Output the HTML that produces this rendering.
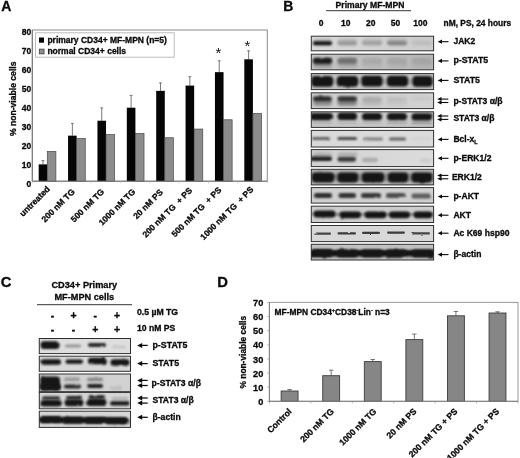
<!DOCTYPE html>
<html><head><meta charset="utf-8"><title>Figure</title>
<style>
html,body{margin:0;padding:0;background:#fff;}
svg{display:block;font-family:"Liberation Sans", Arial, sans-serif;}
</style></head>
<body>
<svg width="520" height="458" viewBox="0 0 520 458">
<rect width="520" height="458" fill="#fff"/>
<defs>
<filter id="b5" x="-30%" y="-60%" width="160%" height="220%"><feTurbulence type="fractalNoise" baseFrequency="0.11 0.16" numOctaves="2" seed="7" result="t"/><feDisplacementMap in="SourceGraphic" in2="t" scale="2.0" xChannelSelector="R" yChannelSelector="G" result="d"/><feGaussianBlur in="d" stdDeviation="0.5"/></filter>
<filter id="b7" x="-30%" y="-60%" width="160%" height="220%"><feTurbulence type="fractalNoise" baseFrequency="0.11 0.16" numOctaves="2" seed="7" result="t"/><feDisplacementMap in="SourceGraphic" in2="t" scale="2.0" xChannelSelector="R" yChannelSelector="G" result="d"/><feGaussianBlur in="d" stdDeviation="0.7"/></filter>
<filter id="b9" x="-30%" y="-60%" width="160%" height="220%"><feTurbulence type="fractalNoise" baseFrequency="0.11 0.16" numOctaves="2" seed="7" result="t"/><feDisplacementMap in="SourceGraphic" in2="t" scale="2.0" xChannelSelector="R" yChannelSelector="G" result="d"/><feGaussianBlur in="d" stdDeviation="0.9"/></filter>
<filter id="b11" x="-30%" y="-60%" width="160%" height="220%"><feTurbulence type="fractalNoise" baseFrequency="0.11 0.16" numOctaves="2" seed="7" result="t"/><feDisplacementMap in="SourceGraphic" in2="t" scale="2.0" xChannelSelector="R" yChannelSelector="G" result="d"/><feGaussianBlur in="d" stdDeviation="1.1"/></filter>
<filter id="b13" x="-30%" y="-60%" width="160%" height="220%"><feTurbulence type="fractalNoise" baseFrequency="0.11 0.16" numOctaves="2" seed="7" result="t"/><feDisplacementMap in="SourceGraphic" in2="t" scale="2.0" xChannelSelector="R" yChannelSelector="G" result="d"/><feGaussianBlur in="d" stdDeviation="1.3"/></filter>
<filter id="b14" x="-30%" y="-60%" width="160%" height="220%"><feTurbulence type="fractalNoise" baseFrequency="0.11 0.16" numOctaves="2" seed="7" result="t"/><feDisplacementMap in="SourceGraphic" in2="t" scale="2.0" xChannelSelector="R" yChannelSelector="G" result="d"/><feGaussianBlur in="d" stdDeviation="1.4"/></filter>
<filter id="b16" x="-30%" y="-60%" width="160%" height="220%"><feTurbulence type="fractalNoise" baseFrequency="0.11 0.16" numOctaves="2" seed="7" result="t"/><feDisplacementMap in="SourceGraphic" in2="t" scale="2.0" xChannelSelector="R" yChannelSelector="G" result="d"/><feGaussianBlur in="d" stdDeviation="1.6"/></filter>
<filter id="b20" x="-30%" y="-60%" width="160%" height="220%"><feTurbulence type="fractalNoise" baseFrequency="0.11 0.16" numOctaves="2" seed="7" result="t"/><feDisplacementMap in="SourceGraphic" in2="t" scale="2.0" xChannelSelector="R" yChannelSelector="G" result="d"/><feGaussianBlur in="d" stdDeviation="2.0"/></filter>
<filter id="noise" x="0" y="0" width="100%" height="100%"><feTurbulence type="fractalNoise" baseFrequency="0.35" numOctaves="2" seed="3"/><feColorMatrix type="matrix" values="0 0 0 0 0  0 0 0 0 0  0 0 0 0 0  0.6 0 0 0 -0.22"/></filter>
</defs>
<text x="1.30" y="11.10" font-size="14" font-weight="bold" text-anchor="start" fill="#0a0a0a" stroke="#0a0a0a" stroke-width="0.3" >A</text>
<text x="283.20" y="11.20" font-size="14" font-weight="bold" text-anchor="start" fill="#0a0a0a" stroke="#0a0a0a" stroke-width="0.3" >B</text>
<text x="0.70" y="287.10" font-size="14.8" font-weight="bold" text-anchor="start" fill="#0a0a0a" stroke="#0a0a0a" stroke-width="0.3" >C</text>
<text x="217.20" y="287.30" font-size="14.8" font-weight="bold" text-anchor="start" fill="#0a0a0a" stroke="#0a0a0a" stroke-width="0.3" >D</text>
<rect x="32.3" y="30.0" width="235.0" height="151.2" fill="#fff" stroke="#8a8a8a" stroke-width="1"/>
<path d="M42.99 164.38V160.60M41.59 160.60H44.39" stroke="#6a6a6a" stroke-width="0.9" fill="none"/>
<rect x="38.69" y="164.38" width="8.6" height="16.82" fill="#050505"/>
<rect x="47.29" y="151.34" width="8.6" height="29.86" fill="#8c8c8c" stroke="#4a4a4a" stroke-width="0.7"/>
<path d="M72.36 135.65V123.37M70.96 123.37H73.76" stroke="#6a6a6a" stroke-width="0.9" fill="none"/>
<rect x="68.06" y="135.65" width="8.6" height="45.55" fill="#050505"/>
<rect x="76.66" y="138.49" width="8.6" height="42.71" fill="#8c8c8c" stroke="#4a4a4a" stroke-width="0.7"/>
<path d="M101.74 120.72V107.87M100.34 107.87H103.14" stroke="#6a6a6a" stroke-width="0.9" fill="none"/>
<rect x="97.44" y="120.72" width="8.6" height="60.48" fill="#050505"/>
<rect x="106.04" y="134.52" width="8.6" height="46.68" fill="#8c8c8c" stroke="#4a4a4a" stroke-width="0.7"/>
<path d="M131.11 107.68V95.39M129.71 95.39H132.51" stroke="#6a6a6a" stroke-width="0.9" fill="none"/>
<rect x="126.81" y="107.68" width="8.6" height="73.52" fill="#050505"/>
<rect x="135.41" y="133.38" width="8.6" height="47.82" fill="#8c8c8c" stroke="#4a4a4a" stroke-width="0.7"/>
<path d="M160.49 90.86V82.92M159.09 82.92H161.89" stroke="#6a6a6a" stroke-width="0.9" fill="none"/>
<rect x="156.19" y="90.86" width="8.6" height="90.34" fill="#050505"/>
<rect x="164.79" y="137.73" width="8.6" height="43.47" fill="#8c8c8c" stroke="#4a4a4a" stroke-width="0.7"/>
<path d="M189.86 85.57V76.68M188.46 76.68H191.26" stroke="#6a6a6a" stroke-width="0.9" fill="none"/>
<rect x="185.56" y="85.57" width="8.6" height="95.63" fill="#050505"/>
<rect x="194.16" y="129.04" width="8.6" height="52.16" fill="#8c8c8c" stroke="#4a4a4a" stroke-width="0.7"/>
<path d="M219.24 72.15V60.81M217.84 60.81H220.64" stroke="#6a6a6a" stroke-width="0.9" fill="none"/>
<rect x="214.94" y="72.15" width="8.6" height="109.05" fill="#050505"/>
<rect x="223.54" y="119.77" width="8.6" height="61.42" fill="#8c8c8c" stroke="#4a4a4a" stroke-width="0.7"/>
<path d="M248.61 59.30V50.79M247.21 50.79H250.01" stroke="#6a6a6a" stroke-width="0.9" fill="none"/>
<rect x="244.31" y="59.30" width="8.6" height="121.90" fill="#050505"/>
<rect x="252.91" y="113.35" width="8.6" height="67.85" fill="#8c8c8c" stroke="#4a4a4a" stroke-width="0.7"/>
<path d="M32.3 30.0V181.2H267.3" stroke="#777" stroke-width="1" fill="none"/>
<path d="M32.30 181.2v2" stroke="#bbb" stroke-width="0.8"/>
<path d="M61.67 181.2v2" stroke="#bbb" stroke-width="0.8"/>
<path d="M91.05 181.2v2" stroke="#bbb" stroke-width="0.8"/>
<path d="M120.42 181.2v2" stroke="#bbb" stroke-width="0.8"/>
<path d="M149.80 181.2v2" stroke="#bbb" stroke-width="0.8"/>
<path d="M179.18 181.2v2" stroke="#bbb" stroke-width="0.8"/>
<path d="M208.55 181.2v2" stroke="#bbb" stroke-width="0.8"/>
<path d="M237.93 181.2v2" stroke="#bbb" stroke-width="0.8"/>
<path d="M267.30 181.2v2" stroke="#bbb" stroke-width="0.8"/>
<text x="31.20" y="186.60" font-size="8.5" font-weight="bold" text-anchor="end" fill="#0a0a0a" stroke="#0a0a0a" stroke-width="0.3" >0</text>
<text x="31.20" y="167.70" font-size="8.5" font-weight="bold" text-anchor="end" fill="#0a0a0a" stroke="#0a0a0a" stroke-width="0.3" >10</text>
<text x="31.20" y="148.80" font-size="8.5" font-weight="bold" text-anchor="end" fill="#0a0a0a" stroke="#0a0a0a" stroke-width="0.3" >20</text>
<text x="31.20" y="129.90" font-size="8.5" font-weight="bold" text-anchor="end" fill="#0a0a0a" stroke="#0a0a0a" stroke-width="0.3" >30</text>
<text x="31.20" y="111.00" font-size="8.5" font-weight="bold" text-anchor="end" fill="#0a0a0a" stroke="#0a0a0a" stroke-width="0.3" >40</text>
<text x="31.20" y="92.10" font-size="8.5" font-weight="bold" text-anchor="end" fill="#0a0a0a" stroke="#0a0a0a" stroke-width="0.3" >50</text>
<text x="31.20" y="73.20" font-size="8.5" font-weight="bold" text-anchor="end" fill="#0a0a0a" stroke="#0a0a0a" stroke-width="0.3" >60</text>
<text x="31.20" y="54.30" font-size="8.5" font-weight="bold" text-anchor="end" fill="#0a0a0a" stroke="#0a0a0a" stroke-width="0.3" >70</text>
<text x="31.20" y="35.40" font-size="8.5" font-weight="bold" text-anchor="end" fill="#0a0a0a" stroke="#0a0a0a" stroke-width="0.3" >80</text>
<text x="218.3" y="58.4" font-size="15" text-anchor="middle" fill="#111">*</text>
<text x="247.5" y="50.9" font-size="15" text-anchor="middle" fill="#111">*</text>
<text transform="translate(15.60,98.80) rotate(-90)" font-size="8.6" font-weight="bold" text-anchor="middle" fill="#0a0a0a" stroke="#0a0a0a" stroke-width="0.3">% non-viable cells</text>
<rect x="35.6" y="32.8" width="138.6" height="24.4" fill="#fff" stroke="#b4b4b4" stroke-width="0.9"/>
<rect x="39.0" y="37.5" width="5" height="5.2" fill="#050505"/>
<rect x="39.4" y="49.2" width="4.6" height="4.6" fill="#909090" stroke="#505050" stroke-width="1"/>
<text x="47.40" y="43.00" font-size="8.5" font-weight="bold" text-anchor="start" fill="#0a0a0a" stroke="#0a0a0a" stroke-width="0.3" >primary CD34+ MF-MPN (n=5)</text>
<text x="47.40" y="54.10" font-size="8.5" font-weight="bold" text-anchor="start" fill="#0a0a0a" stroke="#0a0a0a" stroke-width="0.3" >normal CD34+ cells</text>
<text transform="translate(50.49,189.60) rotate(-45)" font-size="8.5" font-weight="bold" text-anchor="end" fill="#0a0a0a" stroke="#0a0a0a" stroke-width="0.3">untreated</text>
<text transform="translate(75.36,192.30) rotate(-45)" font-size="8.5" font-weight="bold" text-anchor="end" fill="#0a0a0a" stroke="#0a0a0a" stroke-width="0.3">200 nM TG</text>
<text transform="translate(104.74,192.30) rotate(-45)" font-size="8.5" font-weight="bold" text-anchor="end" fill="#0a0a0a" stroke="#0a0a0a" stroke-width="0.3">500 nM TG</text>
<text transform="translate(135.91,192.30) rotate(-45)" font-size="8.5" font-weight="bold" text-anchor="end" fill="#0a0a0a" stroke="#0a0a0a" stroke-width="0.3">1000 nM TG</text>
<text transform="translate(163.49,192.80) rotate(-45)" font-size="8.5" font-weight="bold" text-anchor="end" fill="#0a0a0a" stroke="#0a0a0a" stroke-width="0.3">20 nM PS</text>
<text transform="translate(192.86,191.00) rotate(-45)" font-size="8.5" font-weight="bold" text-anchor="end" fill="#0a0a0a" stroke="#0a0a0a" stroke-width="0.3">200 nM TG&#160; + PS</text>
<text transform="translate(221.94,190.50) rotate(-45)" font-size="8.5" font-weight="bold" text-anchor="end" fill="#0a0a0a" stroke="#0a0a0a" stroke-width="0.3">500 nM TG&#160; + PS</text>
<text transform="translate(254.11,190.10) rotate(-45)" font-size="8.5" font-weight="bold" text-anchor="end" fill="#0a0a0a" stroke="#0a0a0a" stroke-width="0.3">1000 nM TG&#160; + PS</text>
<text x="370.00" y="8.00" font-size="8.6" font-weight="bold" text-anchor="middle" fill="#0a0a0a" stroke="#0a0a0a" stroke-width="0.3" >Primary MF-MPN</text>
<path d="M326 10.7H411" stroke="#111" stroke-width="0.85"/>
<text x="321.00" y="26.00" font-size="8.5" font-weight="bold" text-anchor="middle" fill="#0a0a0a" stroke="#0a0a0a" stroke-width="0.3" >0</text>
<text x="345.80" y="26.00" font-size="8.5" font-weight="bold" text-anchor="middle" fill="#0a0a0a" stroke="#0a0a0a" stroke-width="0.3" >10</text>
<text x="370.80" y="26.00" font-size="8.5" font-weight="bold" text-anchor="middle" fill="#0a0a0a" stroke="#0a0a0a" stroke-width="0.3" >20</text>
<text x="395.60" y="26.00" font-size="8.5" font-weight="bold" text-anchor="middle" fill="#0a0a0a" stroke="#0a0a0a" stroke-width="0.3" >50</text>
<text x="420.40" y="26.00" font-size="8.5" font-weight="bold" text-anchor="middle" fill="#0a0a0a" stroke="#0a0a0a" stroke-width="0.3" >100</text>
<text x="443.60" y="26.00" font-size="8.4" font-weight="bold" text-anchor="start" fill="#0a0a0a" stroke="#0a0a0a" stroke-width="0.3" >nM, PS, 24 hours</text>
<clipPath id="c1"><rect x="311.3" y="36.2" width="122.30" height="14.60"/></clipPath>
<g clip-path="url(#c1)">
<linearGradient id="g1" x1="0" x2="1" y1="0" y2="0"><stop offset="0" stop-color="#dadada"/><stop offset="1" stop-color="#cccccc"/></linearGradient>
<rect x="311.3" y="36.2" width="122.30" height="14.60" fill="url(#g1)"/>
<rect x="313.00" y="41.20" width="19.00" height="4.00" rx="2.00" fill="#141414" opacity="1" filter="url(#b9)"/>
<rect x="337.50" y="41.20" width="19.50" height="4.00" rx="2.00" fill="#141414" opacity="0.2" filter="url(#b9)"/>
<rect x="362.00" y="41.20" width="20.00" height="4.00" rx="2.00" fill="#141414" opacity="0.16" filter="url(#b9)"/>
<rect x="387.00" y="41.20" width="20.00" height="4.00" rx="2.00" fill="#141414" opacity="0.3" filter="url(#b9)"/>
<rect x="411.50" y="41.20" width="20.50" height="4.00" rx="2.00" fill="#141414" opacity="0.04" filter="url(#b9)"/>
<rect x="313.00" y="38.50" width="19.00" height="7.00" rx="3.50" fill="#141414" opacity="0.15" filter="url(#b14)"/>
<rect x="337.50" y="38.50" width="19.50" height="7.00" rx="3.50" fill="#141414" opacity="0.15" filter="url(#b14)"/>
<rect x="362.00" y="38.50" width="20.00" height="7.00" rx="3.50" fill="#141414" opacity="0.12" filter="url(#b14)"/>
<rect x="387.00" y="38.50" width="20.00" height="7.00" rx="3.50" fill="#141414" opacity="0.15" filter="url(#b14)"/>
<rect x="411.50" y="38.50" width="20.50" height="7.00" rx="3.50" fill="#141414" opacity="0.03" filter="url(#b14)"/>
</g>
<rect x="311.3" y="36.2" width="122.30" height="14.60" fill="none" stroke="#2e2e2e" stroke-width="1"/>
<clipPath id="c2"><rect x="311.3" y="54.2" width="122.30" height="15.60"/></clipPath>
<g clip-path="url(#c2)">
<linearGradient id="g2" x1="0" x2="1" y1="0" y2="0"><stop offset="0" stop-color="#c6c6c6"/><stop offset="1" stop-color="#b6b6b6"/></linearGradient>
<rect x="311.3" y="54.2" width="122.30" height="15.60" fill="url(#g2)"/>
<rect x="313.00" y="57.80" width="19.00" height="6.00" rx="3.00" fill="#141414" opacity="0.95" filter="url(#b11)"/>
<rect x="337.50" y="57.80" width="19.50" height="6.00" rx="3.00" fill="#141414" opacity="0.38" filter="url(#b11)"/>
<rect x="362.00" y="57.80" width="20.00" height="6.00" rx="3.00" fill="#141414" opacity="0.06" filter="url(#b11)"/>
<rect x="387.00" y="57.80" width="20.00" height="6.00" rx="3.00" fill="#141414" opacity="0.06" filter="url(#b11)"/>
<rect x="411.50" y="57.80" width="20.50" height="6.00" rx="3.00" fill="#141414" opacity="0.05" filter="url(#b11)"/>
<rect x="313.00" y="58.50" width="19.00" height="9.00" rx="3.60" fill="#141414" opacity="0.3" filter="url(#b16)"/>
<rect x="337.50" y="58.50" width="19.50" height="9.00" rx="3.60" fill="#141414" opacity="0.15" filter="url(#b16)"/>
<rect x="362.00" y="58.50" width="20.00" height="9.00" rx="3.60" fill="#141414" opacity="0.06" filter="url(#b16)"/>
<rect x="387.00" y="58.50" width="20.00" height="9.00" rx="3.60" fill="#141414" opacity="0.06" filter="url(#b16)"/>
<rect x="411.50" y="58.50" width="20.50" height="9.00" rx="3.60" fill="#141414" opacity="0.06" filter="url(#b16)"/>
</g>
<rect x="311.3" y="54.2" width="122.30" height="15.60" fill="none" stroke="#2e2e2e" stroke-width="1"/>
<clipPath id="c3"><rect x="311.3" y="73.6" width="122.30" height="16.00"/></clipPath>
<g clip-path="url(#c3)">
<rect x="311.3" y="73.6" width="122.30" height="16.00" fill="#c0c0c0"/>
<rect x="311.50" y="76.10" width="21.50" height="10.60" rx="3.60" fill="#141414" opacity="1" filter="url(#b9)"/>
<rect x="337.00" y="76.10" width="21.00" height="10.60" rx="3.60" fill="#141414" opacity="1" filter="url(#b9)"/>
<rect x="361.50" y="75.80" width="21.00" height="10.60" rx="3.60" fill="#141414" opacity="1" filter="url(#b9)"/>
<rect x="387.00" y="75.80" width="21.00" height="10.60" rx="3.60" fill="#141414" opacity="1" filter="url(#b9)"/>
<rect x="412.50" y="76.10" width="20.00" height="10.60" rx="3.60" fill="#141414" opacity="1" filter="url(#b9)"/>
<rect x="310.00" y="79.00" width="125.00" height="5.00" rx="2.50" fill="#141414" opacity="0.18" filter="url(#b13)"/>
</g>
<rect x="311.3" y="73.6" width="122.30" height="16.00" fill="none" stroke="#2e2e2e" stroke-width="1"/>
<clipPath id="c4"><rect x="311.3" y="92.8" width="122.30" height="15.80"/></clipPath>
<g clip-path="url(#c4)">
<linearGradient id="g4" x1="0" x2="1" y1="0" y2="0"><stop offset="0" stop-color="#cccccc"/><stop offset="1" stop-color="#d2d2d2"/></linearGradient>
<rect x="311.3" y="92.8" width="122.30" height="15.80" fill="url(#g4)"/>
<rect x="313.00" y="96.30" width="19.00" height="4.60" rx="2.30" fill="#141414" opacity="0.85" filter="url(#b11)"/>
<rect x="337.50" y="96.30" width="19.50" height="4.60" rx="2.30" fill="#141414" opacity="0.8" filter="url(#b11)"/>
<rect x="362.00" y="96.30" width="20.00" height="4.60" rx="2.30" fill="#141414" opacity="0.1" filter="url(#b11)"/>
<rect x="387.00" y="96.30" width="20.00" height="4.60" rx="2.30" fill="#141414" opacity="0.05" filter="url(#b11)"/>
<rect x="411.50" y="96.30" width="20.50" height="4.60" rx="2.30" fill="#141414" opacity="0.03" filter="url(#b11)"/>
<rect x="313.00" y="98.50" width="19.00" height="7.00" rx="3.50" fill="#141414" opacity="0.4" filter="url(#b14)"/>
<rect x="337.50" y="98.50" width="19.50" height="7.00" rx="3.50" fill="#141414" opacity="0.45" filter="url(#b14)"/>
<rect x="362.00" y="98.50" width="20.00" height="7.00" rx="3.50" fill="#141414" opacity="0.12" filter="url(#b14)"/>
<rect x="387.00" y="98.50" width="20.00" height="7.00" rx="3.50" fill="#141414" opacity="0.06" filter="url(#b14)"/>
</g>
<rect x="311.3" y="92.8" width="122.30" height="15.80" fill="none" stroke="#2e2e2e" stroke-width="1"/>
<clipPath id="c5"><rect x="311.3" y="111.8" width="122.30" height="15.60"/></clipPath>
<g clip-path="url(#c5)">
<rect x="311.3" y="111.8" width="122.30" height="15.60" fill="#c8c8c8"/>
<rect x="310.00" y="112.90" width="23.00" height="7.40" rx="3.60" fill="#141414" opacity="1" filter="url(#b9)"/>
<rect x="337.50" y="112.60" width="19.50" height="7.40" rx="3.60" fill="#141414" opacity="1" filter="url(#b9)"/>
<rect x="362.00" y="112.90" width="20.00" height="7.40" rx="3.60" fill="#141414" opacity="1" filter="url(#b9)"/>
<rect x="387.00" y="112.90" width="20.00" height="7.40" rx="3.60" fill="#141414" opacity="1" filter="url(#b9)"/>
<rect x="411.50" y="113.20" width="20.50" height="7.40" rx="3.60" fill="#141414" opacity="1" filter="url(#b9)"/>
<rect x="313.00" y="122.00" width="19.00" height="2.00" rx="1.00" fill="#141414" opacity="0.15" filter="url(#b9)"/>
<rect x="337.50" y="122.00" width="19.50" height="2.00" rx="1.00" fill="#141414" opacity="0.12" filter="url(#b9)"/>
<rect x="362.00" y="122.00" width="20.00" height="2.00" rx="1.00" fill="#141414" opacity="0.12" filter="url(#b9)"/>
<rect x="387.00" y="122.00" width="20.00" height="2.00" rx="1.00" fill="#141414" opacity="0.2" filter="url(#b9)"/>
<rect x="411.50" y="122.00" width="20.50" height="2.00" rx="1.00" fill="#141414" opacity="0.3" filter="url(#b9)"/>
</g>
<rect x="311.3" y="111.8" width="122.30" height="15.60" fill="none" stroke="#2e2e2e" stroke-width="1"/>
<clipPath id="c6"><rect x="311.3" y="130.4" width="122.30" height="16.60"/></clipPath>
<g clip-path="url(#c6)">
<rect x="311.3" y="130.4" width="122.30" height="16.60" fill="#dadada"/>
<rect x="312.00" y="137.00" width="18.00" height="3.00" rx="1.50" fill="#141414" opacity="0.6" filter="url(#b9)"/>
<rect x="337.50" y="137.10" width="19.50" height="3.00" rx="1.50" fill="#141414" opacity="0.75" filter="url(#b9)"/>
<rect x="363.00" y="137.60" width="20.00" height="3.00" rx="1.50" fill="#141414" opacity="0.45" filter="url(#b9)"/>
<rect x="389.00" y="137.50" width="17.00" height="3.00" rx="1.50" fill="#141414" opacity="0.6" filter="url(#b9)"/>
<rect x="411.50" y="137.30" width="20.50" height="3.00" rx="1.50" fill="#141414" opacity="0.03" filter="url(#b9)"/>
</g>
<rect x="311.3" y="130.4" width="122.30" height="16.60" fill="none" stroke="#2e2e2e" stroke-width="1"/>
<clipPath id="c7"><rect x="311.3" y="149.6" width="122.30" height="17.00"/></clipPath>
<g clip-path="url(#c7)">
<linearGradient id="g7" x1="0" x2="1" y1="0" y2="0"><stop offset="0" stop-color="#d2d2d2"/><stop offset="1" stop-color="#dcdcdc"/></linearGradient>
<rect x="311.3" y="149.6" width="122.30" height="17.00" fill="url(#g7)"/>
<rect x="310.00" y="156.50" width="22.00" height="4.60" rx="2.30" fill="#141414" opacity="0.95" filter="url(#b9)"/>
<rect x="337.50" y="157.10" width="18.50" height="4.60" rx="2.30" fill="#141414" opacity="0.8" filter="url(#b9)"/>
<rect x="362.00" y="157.70" width="16.00" height="4.60" rx="2.30" fill="#141414" opacity="0.22" filter="url(#b9)"/>
<rect x="419.50" y="158.20" width="12.50" height="4.60" rx="2.30" fill="#141414" opacity="0.06" filter="url(#b9)"/>
<rect x="313.00" y="152.50" width="19.00" height="5.00" rx="2.50" fill="#141414" opacity="0.2" filter="url(#b14)"/>
<rect x="337.50" y="152.50" width="19.50" height="5.00" rx="2.50" fill="#141414" opacity="0.2" filter="url(#b14)"/>
</g>
<rect x="311.3" y="149.6" width="122.30" height="17.00" fill="none" stroke="#2e2e2e" stroke-width="1"/>
<clipPath id="c8"><rect x="311.3" y="169.3" width="122.30" height="15.60"/></clipPath>
<g clip-path="url(#c8)">
<rect x="311.3" y="169.3" width="122.30" height="15.60" fill="#b2b2b2"/>
<rect x="312.00" y="172.40" width="22.00" height="10.00" rx="3.60" fill="#141414" opacity="1" filter="url(#b9)"/>
<rect x="337.50" y="172.40" width="20.50" height="10.00" rx="3.60" fill="#141414" opacity="1" filter="url(#b9)"/>
<rect x="362.00" y="172.40" width="22.00" height="10.00" rx="3.60" fill="#141414" opacity="1" filter="url(#b9)"/>
<rect x="388.00" y="172.40" width="20.00" height="10.00" rx="3.60" fill="#141414" opacity="1" filter="url(#b9)"/>
<rect x="411.50" y="172.40" width="20.50" height="10.00" rx="3.60" fill="#141414" opacity="1" filter="url(#b9)"/>
<rect x="310.00" y="173.80" width="125.00" height="7.00" rx="3.50" fill="#141414" opacity="0.3" filter="url(#b13)"/>
</g>
<rect x="311.3" y="169.3" width="122.30" height="15.60" fill="none" stroke="#2e2e2e" stroke-width="1"/>
<clipPath id="c9"><rect x="311.3" y="187.6" width="122.30" height="15.50"/></clipPath>
<g clip-path="url(#c9)">
<rect x="311.3" y="187.6" width="122.30" height="15.50" fill="#d0d0d0"/>
<rect x="314.00" y="193.10" width="18.00" height="5.00" rx="2.50" fill="#141414" opacity="0.88" filter="url(#b9)"/>
<rect x="338.50" y="193.10" width="17.50" height="5.00" rx="2.50" fill="#141414" opacity="0.84" filter="url(#b9)"/>
<rect x="361.00" y="193.10" width="20.00" height="5.00" rx="2.50" fill="#141414" opacity="0.82" filter="url(#b9)"/>
<rect x="386.00" y="193.10" width="20.00" height="5.00" rx="2.50" fill="#141414" opacity="0.7" filter="url(#b9)"/>
<rect x="411.50" y="193.40" width="19.50" height="5.00" rx="2.50" fill="#141414" opacity="0.62" filter="url(#b9)"/>
</g>
<rect x="311.3" y="187.6" width="122.30" height="15.50" fill="none" stroke="#2e2e2e" stroke-width="1"/>
<clipPath id="c10"><rect x="311.3" y="206.2" width="122.30" height="16.30"/></clipPath>
<g clip-path="url(#c10)">
<rect x="311.3" y="206.2" width="122.30" height="16.30" fill="#cecece"/>
<rect x="313.50" y="210.60" width="22.00" height="6.80" rx="3.40" fill="#141414" opacity="1" filter="url(#b9)"/>
<rect x="339.50" y="211.40" width="21.50" height="6.80" rx="3.40" fill="#141414" opacity="1" filter="url(#b9)"/>
<rect x="364.50" y="211.40" width="22.00" height="6.80" rx="3.40" fill="#141414" opacity="1" filter="url(#b9)"/>
<rect x="389.00" y="211.40" width="21.00" height="6.80" rx="3.40" fill="#141414" opacity="1" filter="url(#b9)"/>
<rect x="413.50" y="211.40" width="19.00" height="6.80" rx="3.40" fill="#141414" opacity="1" filter="url(#b9)"/>
<rect x="310.00" y="213.10" width="125.00" height="3.00" rx="1.50" fill="#141414" opacity="0.35" filter="url(#b11)"/>
</g>
<rect x="311.3" y="206.2" width="122.30" height="16.30" fill="none" stroke="#2e2e2e" stroke-width="1"/>
<clipPath id="c11"><rect x="311.3" y="225.5" width="122.30" height="16.10"/></clipPath>
<g clip-path="url(#c11)">
<rect x="311.3" y="225.5" width="122.30" height="16.10" fill="#d8d8d8"/>
<rect x="314.00" y="232.60" width="17.00" height="2.20" rx="1.10" fill="#141414" opacity="0.75" filter="url(#b7)"/>
<rect x="337.50" y="232.30" width="18.50" height="2.20" rx="1.10" fill="#141414" opacity="0.8" filter="url(#b7)"/>
<rect x="362.00" y="231.70" width="18.00" height="2.20" rx="1.10" fill="#141414" opacity="0.8" filter="url(#b7)"/>
<rect x="387.00" y="231.50" width="18.00" height="2.20" rx="1.10" fill="#141414" opacity="0.8" filter="url(#b7)"/>
<rect x="411.50" y="232.30" width="18.50" height="2.20" rx="1.10" fill="#141414" opacity="0.75" filter="url(#b7)"/>
</g>
<rect x="311.3" y="225.5" width="122.30" height="16.10" fill="none" stroke="#2e2e2e" stroke-width="1"/>
<clipPath id="c12"><rect x="311.3" y="244.3" width="122.30" height="15.70"/></clipPath>
<g clip-path="url(#c12)">
<rect x="311.3" y="244.3" width="122.30" height="15.70" fill="#c2c2c2"/>
<rect x="308.00" y="250.00" width="129.00" height="6.40" rx="3.20" fill="#141414" opacity="1" filter="url(#b9)"/>
<rect x="309.00" y="249.10" width="24.00" height="7.80" rx="3.60" fill="#141414" opacity="1" filter="url(#b11)"/>
<rect x="336.50" y="249.40" width="21.50" height="7.80" rx="3.60" fill="#141414" opacity="1" filter="url(#b11)"/>
<rect x="361.00" y="249.40" width="22.00" height="7.80" rx="3.60" fill="#141414" opacity="1" filter="url(#b11)"/>
<rect x="386.00" y="249.60" width="21.00" height="7.80" rx="3.60" fill="#141414" opacity="1" filter="url(#b11)"/>
<rect x="411.50" y="249.40" width="22.50" height="7.80" rx="3.60" fill="#141414" opacity="1" filter="url(#b11)"/>
</g>
<rect x="311.3" y="244.3" width="122.30" height="15.70" fill="none" stroke="#2e2e2e" stroke-width="1"/>
<path d="M440.00 41.70H448.50" stroke="#0a0a0a" stroke-width="1.1" fill="none"/>
<path d="M437.70 41.70l4.3 -2.1v4.2z" fill="#0a0a0a"/>
<text x="453.40" y="44.20" font-size="8.55" font-weight="bold" text-anchor="start" fill="#0a0a0a" stroke="#0a0a0a" stroke-width="0.3" >JAK2</text>
<path d="M440.00 60.90H448.50" stroke="#0a0a0a" stroke-width="1.1" fill="none"/>
<path d="M437.70 60.90l4.3 -2.1v4.2z" fill="#0a0a0a"/>
<text x="453.40" y="63.40" font-size="8.8" font-weight="bold" text-anchor="start" fill="#0a0a0a" stroke="#0a0a0a" stroke-width="0.3" >p-STAT5</text>
<path d="M440.00 80.40H448.50" stroke="#0a0a0a" stroke-width="1.1" fill="none"/>
<path d="M437.70 80.40l4.3 -2.1v4.2z" fill="#0a0a0a"/>
<text x="453.40" y="82.90" font-size="8.8" font-weight="bold" text-anchor="start" fill="#0a0a0a" stroke="#0a0a0a" stroke-width="0.3" >STAT5</text>
<path d="M439.50 99.10H448.30" stroke="#0a0a0a" stroke-width="1.1" fill="none"/>
<path d="M437.20 99.10l4.3 -2.0v4.0z" fill="#0a0a0a"/>
<path d="M439.50 102.50H448.30" stroke="#0a0a0a" stroke-width="1.1" fill="none"/>
<path d="M437.20 102.50l4.3 -2.0v4.0z" fill="#0a0a0a"/>
<text x="453.40" y="103.80" font-size="8.55" font-weight="bold" text-anchor="start" fill="#0a0a0a" stroke="#0a0a0a" stroke-width="0.3" >p-STAT3 α/β</text>
<path d="M439.50 116.00H448.30" stroke="#0a0a0a" stroke-width="1.1" fill="none"/>
<path d="M437.20 116.00l4.3 -2.0v4.0z" fill="#0a0a0a"/>
<path d="M439.50 119.40H448.30" stroke="#0a0a0a" stroke-width="1.1" fill="none"/>
<path d="M437.20 119.40l4.3 -2.0v4.0z" fill="#0a0a0a"/>
<text x="453.40" y="120.70" font-size="8.55" font-weight="bold" text-anchor="start" fill="#0a0a0a" stroke="#0a0a0a" stroke-width="0.3" >STAT3 α/β</text>
<path d="M440.00 139.40H448.50" stroke="#0a0a0a" stroke-width="1.1" fill="none"/>
<path d="M437.70 139.40l4.3 -2.1v4.2z" fill="#0a0a0a"/>
<text x="453.40" y="141.90" font-size="8.55" font-weight="bold" text-anchor="start" fill="#0a0a0a" stroke="#0a0a0a" stroke-width="0.3" >Bcl-x<tspan font-size="5.5" dy="2">L</tspan></text>
<path d="M440.00 158.30H448.50" stroke="#0a0a0a" stroke-width="1.1" fill="none"/>
<path d="M437.70 158.30l4.3 -2.1v4.2z" fill="#0a0a0a"/>
<text x="453.40" y="160.80" font-size="8.55" font-weight="bold" text-anchor="start" fill="#0a0a0a" stroke="#0a0a0a" stroke-width="0.3" >p-ERK1/2</text>
<path d="M439.50 175.40H448.30" stroke="#0a0a0a" stroke-width="1.1" fill="none"/>
<path d="M437.20 175.40l4.3 -2.0v4.0z" fill="#0a0a0a"/>
<path d="M439.50 178.80H448.30" stroke="#0a0a0a" stroke-width="1.1" fill="none"/>
<path d="M437.20 178.80l4.3 -2.0v4.0z" fill="#0a0a0a"/>
<text x="451.90" y="180.10" font-size="8.55" font-weight="bold" text-anchor="start" fill="#0a0a0a" stroke="#0a0a0a" stroke-width="0.3" >ERK1/2</text>
<path d="M440.00 196.50H448.50" stroke="#0a0a0a" stroke-width="1.1" fill="none"/>
<path d="M437.70 196.50l4.3 -2.1v4.2z" fill="#0a0a0a"/>
<text x="453.40" y="199.00" font-size="8.55" font-weight="bold" text-anchor="start" fill="#0a0a0a" stroke="#0a0a0a" stroke-width="0.3" >p-AKT</text>
<path d="M440.00 215.20H448.50" stroke="#0a0a0a" stroke-width="1.1" fill="none"/>
<path d="M437.70 215.20l4.3 -2.1v4.2z" fill="#0a0a0a"/>
<text x="453.40" y="217.70" font-size="8.55" font-weight="bold" text-anchor="start" fill="#0a0a0a" stroke="#0a0a0a" stroke-width="0.3" >AKT</text>
<path d="M440.00 233.20H448.50" stroke="#0a0a0a" stroke-width="1.1" fill="none"/>
<path d="M437.70 233.20l4.3 -2.1v4.2z" fill="#0a0a0a"/>
<text x="453.40" y="235.70" font-size="8.55" font-weight="bold" text-anchor="start" fill="#0a0a0a" stroke="#0a0a0a" stroke-width="0.3" >Ac K69 hsp90</text>
<path d="M440.00 254.60H448.50" stroke="#0a0a0a" stroke-width="1.1" fill="none"/>
<path d="M437.70 254.60l4.3 -2.1v4.2z" fill="#0a0a0a"/>
<text x="453.40" y="257.10" font-size="8.55" font-weight="bold" text-anchor="start" fill="#0a0a0a" stroke="#0a0a0a" stroke-width="0.3" >β-actin</text>
<text x="84.30" y="288.40" font-size="9.2" font-weight="bold" text-anchor="middle" fill="#0a0a0a" stroke="#0a0a0a" stroke-width="0.3" >CD34+ Primary</text>
<text x="84.30" y="300.30" font-size="9.2" font-weight="bold" text-anchor="middle" fill="#0a0a0a" stroke="#0a0a0a" stroke-width="0.3" >MF-MPN cells</text>
<path d="M37 304.7H132" stroke="#111" stroke-width="0.85"/>
<text x="52.50" y="318.70" font-size="10.5" font-weight="bold" text-anchor="middle" fill="#0a0a0a" stroke="#0a0a0a" stroke-width="0.3" >-</text>
<text x="73.50" y="319.00" font-size="10.5" font-weight="bold" text-anchor="middle" fill="#0a0a0a" stroke="#0a0a0a" stroke-width="0.3" >+</text>
<text x="95.20" y="318.70" font-size="10.5" font-weight="bold" text-anchor="middle" fill="#0a0a0a" stroke="#0a0a0a" stroke-width="0.3" >-</text>
<text x="117.00" y="319.00" font-size="10.5" font-weight="bold" text-anchor="middle" fill="#0a0a0a" stroke="#0a0a0a" stroke-width="0.3" >+</text>
<text x="52.50" y="332.90" font-size="10.5" font-weight="bold" text-anchor="middle" fill="#0a0a0a" stroke="#0a0a0a" stroke-width="0.3" >-</text>
<text x="73.50" y="332.90" font-size="10.5" font-weight="bold" text-anchor="middle" fill="#0a0a0a" stroke="#0a0a0a" stroke-width="0.3" >-</text>
<text x="95.20" y="333.20" font-size="10.5" font-weight="bold" text-anchor="middle" fill="#0a0a0a" stroke="#0a0a0a" stroke-width="0.3" >+</text>
<text x="117.00" y="333.20" font-size="10.5" font-weight="bold" text-anchor="middle" fill="#0a0a0a" stroke="#0a0a0a" stroke-width="0.3" >+</text>
<text x="136.90" y="314.90" font-size="8.7" font-weight="bold" text-anchor="start" fill="#0a0a0a" stroke="#0a0a0a" stroke-width="0.3" >0.5 µM TG</text>
<text x="136.90" y="331.40" font-size="8.65" font-weight="bold" text-anchor="start" fill="#0a0a0a" stroke="#0a0a0a" stroke-width="0.3" >10 nM PS</text>
<clipPath id="c13"><rect x="39.3" y="338.5" width="91.20" height="15.10"/></clipPath>
<g clip-path="url(#c13)">
<rect x="39.3" y="338.5" width="91.20" height="15.10" fill="#dedede"/>
<rect x="40.40" y="341.30" width="19.20" height="7.60" rx="3.60" fill="#141414" opacity="1" filter="url(#b11)"/>
<rect x="65.00" y="344.40" width="16.00" height="3.20" rx="1.60" fill="#141414" opacity="0.35" filter="url(#b11)"/>
<rect x="88.00" y="343.00" width="18.00" height="4.00" rx="2.00" fill="#141414" opacity="0.9" filter="url(#b9)"/>
<rect x="112.00" y="345.50" width="14.00" height="3.00" rx="1.50" fill="#141414" opacity="0.1" filter="url(#b11)"/>
</g>
<rect x="39.3" y="338.5" width="91.20" height="15.10" fill="none" stroke="#2e2e2e" stroke-width="1"/>
<clipPath id="c14"><rect x="39.3" y="356.2" width="91.20" height="15.10"/></clipPath>
<g clip-path="url(#c14)">
<rect x="39.3" y="356.2" width="91.20" height="15.10" fill="#d8d8d8"/>
<rect x="41.00" y="359.25" width="20.00" height="5.50" rx="2.75" fill="#141414" opacity="1" filter="url(#b9)"/>
<rect x="65.50" y="359.40" width="17.50" height="4.40" rx="2.20" fill="#141414" opacity="1" filter="url(#b9)"/>
<rect x="88.00" y="357.75" width="19.00" height="6.50" rx="3.25" fill="#141414" opacity="1" filter="url(#b9)"/>
<rect x="110.50" y="359.35" width="19.00" height="6.50" rx="3.25" fill="#141414" opacity="1" filter="url(#b9)"/>
</g>
<rect x="39.3" y="356.2" width="91.20" height="15.10" fill="none" stroke="#2e2e2e" stroke-width="1"/>
<clipPath id="c15"><rect x="39.3" y="374.0" width="91.20" height="17.70"/></clipPath>
<g clip-path="url(#c15)">
<rect x="39.3" y="374.0" width="91.20" height="17.70" fill="#d2d2d2"/>
<rect x="40.20" y="376.50" width="19.80" height="14.00" rx="3.60" fill="#141414" opacity="1" filter="url(#b11)"/>
<rect x="40.00" y="384.00" width="21.00" height="6.00" rx="3.00" fill="#141414" opacity="1" filter="url(#b11)"/>
<rect x="64.00" y="384.40" width="17.00" height="4.00" rx="2.00" fill="#141414" opacity="0.92" filter="url(#b9)"/>
<rect x="64.00" y="377.55" width="16.00" height="3.50" rx="1.75" fill="#141414" opacity="0.3" filter="url(#b11)"/>
<rect x="87.00" y="384.00" width="16.00" height="4.00" rx="2.00" fill="#141414" opacity="0.95" filter="url(#b9)"/>
<rect x="87.00" y="377.75" width="16.00" height="3.50" rx="1.75" fill="#141414" opacity="0.4" filter="url(#b11)"/>
<rect x="110.00" y="386.00" width="12.00" height="4.00" rx="2.00" fill="#141414" opacity="0.1" filter="url(#b13)"/>
</g>
<rect x="39.3" y="374.0" width="91.20" height="17.70" fill="none" stroke="#2e2e2e" stroke-width="1"/>
<clipPath id="c16"><rect x="39.3" y="392.4" width="91.20" height="16.40"/></clipPath>
<g clip-path="url(#c16)">
<rect x="39.3" y="392.4" width="91.20" height="16.40" fill="#d4d4d4"/>
<rect x="40.30" y="399.90" width="21.50" height="6.60" rx="3.30" fill="#141414" opacity="1" filter="url(#b9)"/>
<rect x="42.00" y="396.50" width="18.00" height="3.00" rx="1.50" fill="#141414" opacity="0.95" filter="url(#b9)"/>
<rect x="64.50" y="399.30" width="19.00" height="7.00" rx="3.50" fill="#141414" opacity="1" filter="url(#b9)"/>
<rect x="66.00" y="396.00" width="16.00" height="3.20" rx="1.60" fill="#141414" opacity="0.95" filter="url(#b9)"/>
<rect x="87.00" y="398.80" width="19.50" height="7.20" rx="3.60" fill="#141414" opacity="1" filter="url(#b9)"/>
<rect x="88.50" y="395.30" width="16.50" height="3.40" rx="1.70" fill="#141414" opacity="0.95" filter="url(#b9)"/>
<rect x="110.00" y="401.30" width="19.50" height="4.20" rx="2.10" fill="#141414" opacity="1" filter="url(#b9)"/>
<rect x="112.00" y="397.75" width="16.00" height="1.50" rx="0.75" fill="#141414" opacity="0.3" filter="url(#b9)"/>
</g>
<rect x="39.3" y="392.4" width="91.20" height="16.40" fill="none" stroke="#2e2e2e" stroke-width="1"/>
<clipPath id="c17"><rect x="39.3" y="411.2" width="91.20" height="16.20"/></clipPath>
<g clip-path="url(#c17)">
<rect x="39.3" y="411.2" width="91.20" height="16.20" fill="#d6d6d6"/>
<rect x="39.00" y="417.50" width="89.00" height="5.00" rx="2.50" fill="#141414" opacity="1" filter="url(#b9)"/>
<rect x="40.00" y="416.10" width="22.00" height="7.00" rx="3.50" fill="#141414" opacity="1" filter="url(#b11)"/>
<rect x="62.00" y="416.70" width="22.00" height="7.00" rx="3.50" fill="#141414" opacity="1" filter="url(#b11)"/>
<rect x="84.00" y="416.90" width="23.00" height="7.00" rx="3.50" fill="#141414" opacity="1" filter="url(#b11)"/>
<rect x="105.00" y="417.80" width="22.00" height="6.40" rx="3.20" fill="#141414" opacity="1" filter="url(#b11)"/>
<rect x="120.00" y="419.00" width="11.00" height="5.00" rx="2.50" fill="#141414" opacity="0.4" filter="url(#b13)"/>
</g>
<rect x="39.3" y="411.2" width="91.20" height="16.20" fill="none" stroke="#2e2e2e" stroke-width="1"/>
<path d="M139.50 345.40H147.70" stroke="#0a0a0a" stroke-width="1.25" fill="none"/>
<path d="M137.20 345.40l5.0 -2.5v5.0z" fill="#0a0a0a"/>
<text x="152.50" y="347.90" font-size="8.8" font-weight="bold" text-anchor="start" fill="#0a0a0a" stroke="#0a0a0a" stroke-width="0.3" >p-STAT5</text>
<path d="M139.50 363.60H147.70" stroke="#0a0a0a" stroke-width="1.25" fill="none"/>
<path d="M137.20 363.60l5.0 -2.5v5.0z" fill="#0a0a0a"/>
<text x="152.50" y="366.10" font-size="8.8" font-weight="bold" text-anchor="start" fill="#0a0a0a" stroke="#0a0a0a" stroke-width="0.3" >STAT5</text>
<path d="M139.50 380.40H147.70" stroke="#0a0a0a" stroke-width="1.25" fill="none"/>
<path d="M137.20 380.40l5.0 -2.5v5.0z" fill="#0a0a0a"/>
<path d="M139.50 385.50H147.70" stroke="#0a0a0a" stroke-width="1.25" fill="none"/>
<path d="M137.20 385.50l5.0 -2.5v5.0z" fill="#0a0a0a"/>
<text x="151.60" y="385.70" font-size="8.6" font-weight="bold" text-anchor="start" fill="#0a0a0a" stroke="#0a0a0a" stroke-width="0.3" >p-STAT3 α/β</text>
<path d="M139.50 398.00H147.70" stroke="#0a0a0a" stroke-width="1.25" fill="none"/>
<path d="M137.20 398.00l5.0 -2.5v5.0z" fill="#0a0a0a"/>
<path d="M139.50 403.10H147.70" stroke="#0a0a0a" stroke-width="1.25" fill="none"/>
<path d="M137.20 403.10l5.0 -2.5v5.0z" fill="#0a0a0a"/>
<text x="152.50" y="403.30" font-size="8.6" font-weight="bold" text-anchor="start" fill="#0a0a0a" stroke="#0a0a0a" stroke-width="0.3" >STAT3 α/β</text>
<path d="M139.50 417.30H147.70" stroke="#0a0a0a" stroke-width="1.25" fill="none"/>
<path d="M137.20 417.30l5.0 -2.5v5.0z" fill="#0a0a0a"/>
<text x="152.50" y="419.80" font-size="8.6" font-weight="bold" text-anchor="start" fill="#0a0a0a" stroke="#0a0a0a" stroke-width="0.3" >β-actin</text>
<rect x="269.4" y="302.4" width="248.60" height="98.90" fill="#fff" stroke="#999" stroke-width="1"/>
<path d="M289.59 391.00V389.50M287.39 389.50H291.79" stroke="#666" stroke-width="0.9" fill="none"/>
<rect x="281.14" y="391.00" width="16.9" height="10.30" fill="#868686" stroke="#3c3c3c" stroke-width="0.9"/>
<path d="M331.18 375.70V370.20M328.98 370.20H333.38" stroke="#666" stroke-width="0.9" fill="none"/>
<rect x="322.73" y="375.70" width="16.9" height="25.60" fill="#868686" stroke="#3c3c3c" stroke-width="0.9"/>
<path d="M372.76 361.60V359.50M370.56 359.50H374.96" stroke="#666" stroke-width="0.9" fill="none"/>
<rect x="364.31" y="361.60" width="16.9" height="39.70" fill="#868686" stroke="#3c3c3c" stroke-width="0.9"/>
<path d="M414.34 339.60V334.10M412.14 334.10H416.54" stroke="#666" stroke-width="0.9" fill="none"/>
<rect x="405.89" y="339.60" width="16.9" height="61.70" fill="#868686" stroke="#3c3c3c" stroke-width="0.9"/>
<path d="M455.93 315.80V311.50M453.73 311.50H458.12" stroke="#666" stroke-width="0.9" fill="none"/>
<rect x="447.48" y="315.80" width="16.9" height="85.50" fill="#868686" stroke="#3c3c3c" stroke-width="0.9"/>
<path d="M497.51 313.00V311.80M495.31 311.80H499.71" stroke="#666" stroke-width="0.9" fill="none"/>
<rect x="489.06" y="313.00" width="16.9" height="88.30" fill="#868686" stroke="#3c3c3c" stroke-width="0.9"/>
<path d="M269.4 302.4V401.3H518.0" stroke="#808080" stroke-width="1" fill="none"/>
<path d="M269.40 401.3v2" stroke="#999" stroke-width="0.8"/>
<path d="M310.83 401.3v2" stroke="#999" stroke-width="0.8"/>
<path d="M352.27 401.3v2" stroke="#999" stroke-width="0.8"/>
<path d="M393.70 401.3v2" stroke="#999" stroke-width="0.8"/>
<path d="M435.13 401.3v2" stroke="#999" stroke-width="0.8"/>
<path d="M476.57 401.3v2" stroke="#999" stroke-width="0.8"/>
<path d="M518.00 401.3v2" stroke="#999" stroke-width="0.8"/>
<path d="M267.4 401.30h2" stroke="#999" stroke-width="0.8"/>
<text x="263.30" y="405.00" font-size="9.2" font-weight="bold" text-anchor="end" fill="#0a0a0a" stroke="#0a0a0a" stroke-width="0.3" >0</text>
<path d="M267.4 387.17h2" stroke="#999" stroke-width="0.8"/>
<text x="263.30" y="390.87" font-size="9.2" font-weight="bold" text-anchor="end" fill="#0a0a0a" stroke="#0a0a0a" stroke-width="0.3" >10</text>
<path d="M267.4 373.04h2" stroke="#999" stroke-width="0.8"/>
<text x="263.30" y="376.74" font-size="9.2" font-weight="bold" text-anchor="end" fill="#0a0a0a" stroke="#0a0a0a" stroke-width="0.3" >20</text>
<path d="M267.4 358.91h2" stroke="#999" stroke-width="0.8"/>
<text x="263.30" y="362.61" font-size="9.2" font-weight="bold" text-anchor="end" fill="#0a0a0a" stroke="#0a0a0a" stroke-width="0.3" >30</text>
<path d="M267.4 344.79h2" stroke="#999" stroke-width="0.8"/>
<text x="263.30" y="348.49" font-size="9.2" font-weight="bold" text-anchor="end" fill="#0a0a0a" stroke="#0a0a0a" stroke-width="0.3" >40</text>
<path d="M267.4 330.66h2" stroke="#999" stroke-width="0.8"/>
<text x="263.30" y="334.36" font-size="9.2" font-weight="bold" text-anchor="end" fill="#0a0a0a" stroke="#0a0a0a" stroke-width="0.3" >50</text>
<path d="M267.4 316.53h2" stroke="#999" stroke-width="0.8"/>
<text x="263.30" y="320.23" font-size="9.2" font-weight="bold" text-anchor="end" fill="#0a0a0a" stroke="#0a0a0a" stroke-width="0.3" >60</text>
<path d="M267.4 302.40h2" stroke="#999" stroke-width="0.8"/>
<text x="263.30" y="306.10" font-size="9.2" font-weight="bold" text-anchor="end" fill="#0a0a0a" stroke="#0a0a0a" stroke-width="0.3" >70</text>
<text transform="translate(246.40,352.20) rotate(-90)" font-size="8.4" font-weight="bold" text-anchor="middle" fill="#0a0a0a" stroke="#0a0a0a" stroke-width="0.3">% non-viable cells</text>
<text x="274.60" y="315.40" font-size="8.4" font-weight="bold" text-anchor="start" fill="#0a0a0a" stroke="#0a0a0a" stroke-width="0.3" >MF-MPN CD34<tspan font-size="5.5" dy="-3">+</tspan><tspan dy="3">CD38</tspan><tspan font-size="5.5" dy="-3">-</tspan><tspan dy="3">Lin</tspan><tspan font-size="5.5" dy="-3">-</tspan><tspan dy="3"> n=3</tspan></text>
<text transform="translate(292.29,412.00) rotate(-45)" font-size="8.6" font-weight="bold" text-anchor="end" fill="#0a0a0a" stroke="#0a0a0a" stroke-width="0.3">Control</text>
<text transform="translate(334.38,412.00) rotate(-45)" font-size="8.6" font-weight="bold" text-anchor="end" fill="#0a0a0a" stroke="#0a0a0a" stroke-width="0.3">200 nM TG</text>
<text transform="translate(376.96,412.00) rotate(-45)" font-size="8.6" font-weight="bold" text-anchor="end" fill="#0a0a0a" stroke="#0a0a0a" stroke-width="0.3">1000 nM TG</text>
<text transform="translate(417.04,412.00) rotate(-45)" font-size="8.6" font-weight="bold" text-anchor="end" fill="#0a0a0a" stroke="#0a0a0a" stroke-width="0.3">20 nM PS</text>
<text transform="translate(458.12,412.00) rotate(-45)" font-size="8.6" font-weight="bold" text-anchor="end" fill="#0a0a0a" stroke="#0a0a0a" stroke-width="0.3">200 nM TG + PS</text>
<text transform="translate(499.71,412.00) rotate(-45)" font-size="8.6" font-weight="bold" text-anchor="end" fill="#0a0a0a" stroke="#0a0a0a" stroke-width="0.3">1000 nM TG + PS</text>
</svg>
</body></html>
